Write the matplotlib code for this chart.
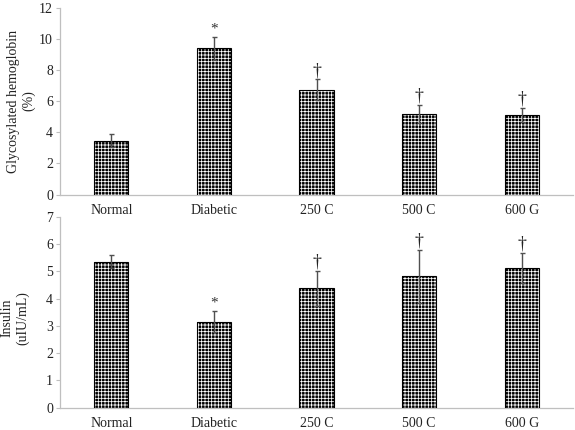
import matplotlib
matplotlib.use("Agg")
import matplotlib.pyplot as plt
import numpy as np

plt.rcParams['font.family'] = ['Liberation Serif', 'DejaVu Serif']
plt.rcParams['hatch.linewidth'] = 0.55

categories = ["Normal", "Diabetic", "250 C", "500 C", "600 G"]
hba1c = [3.45, 9.40, 6.74, 5.17, 5.13]
hba1c_sd = [0.42, 0.76, 0.66, 0.60, 0.44]
hba1c_marks = ["", "*", "†", "†", "†"]
insulin = [5.35, 3.15, 4.37, 4.81, 5.11]
insulin_sd = [0.24, 0.39, 0.65, 0.97, 0.56]
insulin_marks = ["", "*", "†", "†", "†"]
top_label = "Glycosylated hemoglobin\n(%)"
bottom_label = "Insulin\n(uIU/mL)"

fig = plt.figure(figsize=(5.75, 4.3), dpi=100)
ax1 = fig.add_axes([60/575, 1-194.5/430, 513/575, 186.5/430])
ax2 = fig.add_axes([60/575, 1-407.7/430, 513/575, 191.1/430])

def draw(ax, vals, sds, marks, ymax):
    x = np.arange(len(categories))
    w = 0.335
    ax.bar(x, vals, width=w, color='black', edgecolor='white', hatch='+++++', linewidth=0, zorder=2)
    ax.bar(x, vals, width=w, fill=False, edgecolor='black', linewidth=0.8, zorder=3)
    ax.errorbar(x, vals, yerr=sds, fmt='none', ecolor='#505050', elinewidth=1.0,
                capsize=1.8, capthick=1.0, zorder=4)
    for xi, v, s, m in zip(x, vals, sds, marks):
        if m == "*":
            ax.annotate(m, (xi, v + s), xytext=(0, 3), textcoords='offset points',
                        ha='center', va='baseline', fontsize=11, color='#333333')
        elif m:
            ax.annotate(m, (xi, v + s), xytext=(0, 3), textcoords='offset points',
                        ha='center', va='baseline', fontsize=13, color='#222222')
    ax.set_xlim(-0.5, len(categories) - 0.5)
    ax.set_ylim(0, ymax)
    ax.set_xticks(x)
    ax.set_xticklabels(categories)
    ax.tick_params(axis='x', length=0, pad=7, labelsize=10, colors='#222222')
    ax.tick_params(axis='y', length=3, width=0.8, color='#BFBFBF', labelsize=10,
                   labelcolor='#222222', pad=2)
    for sp in ['top', 'right']:
        ax.spines[sp].set_visible(False)
    for sp in ['left', 'bottom']:
        ax.spines[sp].set_color('#BFBFBF')
        ax.spines[sp].set_linewidth(0.9)

draw(ax1, hba1c, hba1c_sd, hba1c_marks, 12)
ax1.set_yticks(np.arange(0, 13, 2))
draw(ax2, insulin, insulin_sd, insulin_marks, 7)
ax2.set_yticks(np.arange(0, 8, 1))

fig.text(21.5/575, 1-101/430, top_label, rotation=90, ha='center', va='center',
         fontsize=10, color='#222222', multialignment='center')
fig.text(15/575, 1-318/430, bottom_label, rotation=90, ha='center', va='center',
         fontsize=10, color='#222222', multialignment='center')

fig.savefig("out.png", dpi=100)
